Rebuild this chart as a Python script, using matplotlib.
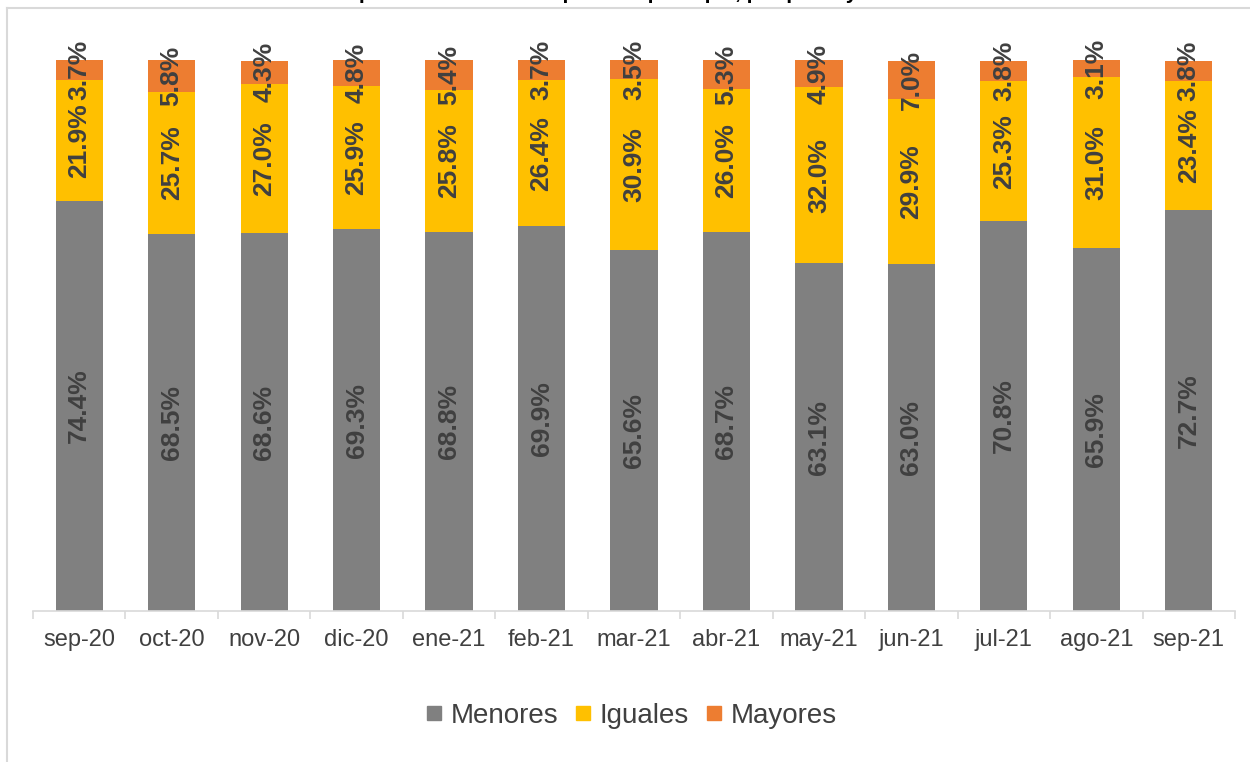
import numpy as np
import matplotlib
matplotlib.use("Agg")
import matplotlib.pyplot as plt
from matplotlib.lines import Line2D

# data (percent)
months = ["sep-20", "oct-20", "nov-20", "dic-20", "ene-21", "feb-21", "mar-21",
          "abr-21", "may-21", "jun-21", "jul-21", "ago-21", "sep-21"]
menores = [74.4, 68.5, 68.6, 69.3, 68.8, 69.9, 65.6, 68.7, 63.1, 63.0, 70.8, 65.9, 72.7]
iguales = [21.9, 25.7, 27.0, 25.9, 25.8, 26.4, 30.9, 26.0, 32.0, 29.9, 25.3, 31.0, 23.4]
mayores = [3.7, 5.8, 4.3, 4.8, 5.4, 3.7, 3.5, 5.3, 4.9, 7.0, 3.8, 3.1, 3.8]

series = [("Menores", menores, "#808080"),
          ("Iguales", iguales, "#FFC000"),
          ("Mayores", mayores, "#ED7D31")]

plt.rcParams['font.family'] = ['Liberation Sans', 'DejaVu Sans']
txt = "#404040"

fig = plt.figure(figsize=(12.5, 7.62), dpi=100)
ax = fig.add_axes([0.0264, 0.198, 0.9616, 0.7233])

x = np.arange(len(months))
bottom = np.zeros(len(months))
for name, vals, col in series:
    vals = np.array(vals)
    ax.bar(x, vals, 0.51, bottom=bottom, color=col, label=name, zorder=2)
    for xi, b, v in zip(x, bottom, vals):
        ax.text(xi, b + v / 2, f"{v:.1f}%", rotation=90, ha='center', va='center',
                fontsize=19, fontweight='bold', color=txt, zorder=3)
    bottom = bottom + vals

ax.set_xlim(-0.5, len(months) - 0.5)
ax.set_ylim(0, 100)
ax.set_yticks([])
for s in ['top', 'right', 'left']:
    ax.spines[s].set_visible(False)
ax.spines['bottom'].set_color('#D9D9D9')
ax.spines['bottom'].set_linewidth(1.2)
ax.set_xticks(x)
ax.set_xticklabels(months, fontsize=17, color=txt)
ax.tick_params(axis='x', which='major', length=0, pad=13)
ax.set_xticks(np.arange(-0.5, len(months)), minor=True)
ax.tick_params(axis='x', which='minor', length=6, color='#D9D9D9', width=1.2)

handles = [Line2D([], [], marker='s', linestyle='', markersize=10.5, color=c)
           for _, _, c in series]
fig.legend(handles, [n for n, _, _ in series], loc='center', bbox_to_anchor=(0.505, 0.061),
           ncol=3, frameon=False, fontsize=20, handlelength=0.6, handletextpad=0.3,
           columnspacing=0.6, labelcolor=txt)

# clipped title and chart frame, as in the source image
fig.text(0.5, 1 + 1 / 762, "Proporción de tasas respecto al principal, por plazo y monto",
         ha='center', va='baseline', fontsize=15, fontweight='bold')
fig.add_artist(Line2D([7 / 1250, 7 / 1250], [0, 1 - 8 / 762], color='#D9D9D9', lw=1.5,
                      transform=fig.transFigure))
fig.add_artist(Line2D([7 / 1250, 1], [1 - 8 / 762, 1 - 8 / 762], color='#D9D9D9', lw=1.5,
                      transform=fig.transFigure))

fig.savefig("out.png", dpi=100)
